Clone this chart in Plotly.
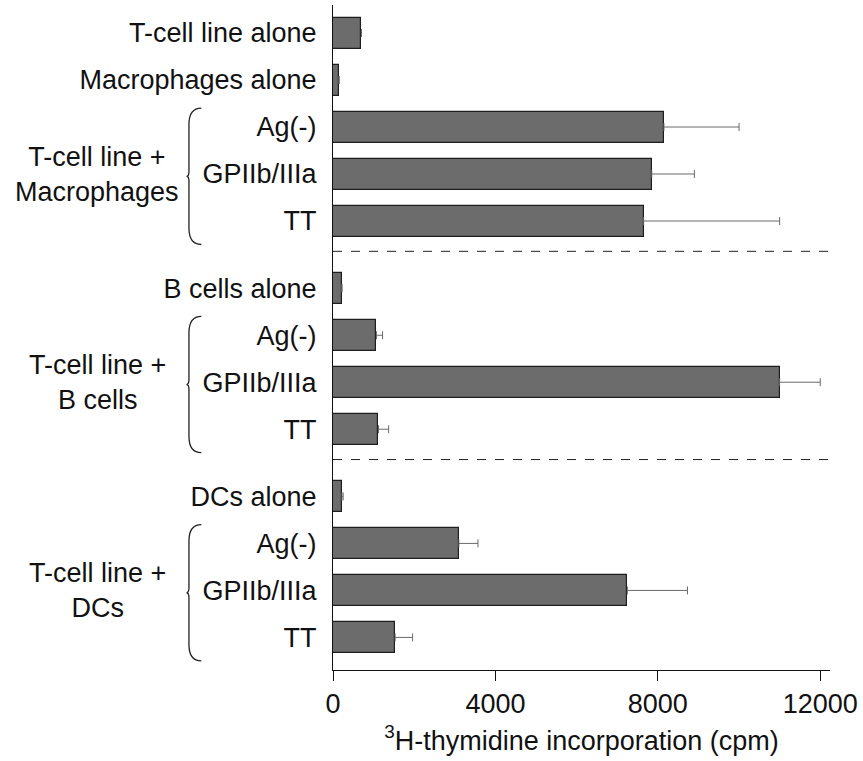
import plotly.graph_objects as go

# ---------------- data ----------------
labels = ["T-cell line alone", "Macrophages alone", "Ag(-)", "GPIIb/IIIa", "TT",
          "B cells alone", "Ag(-)", "GPIIb/IIIa", "TT",
          "DCs alone", "Ag(-)", "GPIIb/IIIa", "TT"]
values = [700, 150, 8150, 7850, 7650,
          220, 1070, 11000, 1120,
          220, 3100, 7250, 1530]
# None = no error bar shown in the reference
errors = [None, None, 1850, 1050, 3350,
          None, 150, 1000, 250,
          30, 470, 1480, 430]
row_group = [0, 0, 0, 0, 0, 1, 1, 1, 1, 2, 2, 2, 2]
group_labels = ["T-cell line +<br>Macrophages", "T-cell line +<br>B cells", "T-cell line +<br>DCs"]
# rows (indices) covered by each brace, and the row where the group label sits
brace_rows = [(2, 4), (6, 8), (10, 12)]
group_label_row = [3, 7, 11]
x_ticks = [0, 4000, 8000, 12000]
x_title = "<sup>3</sup>H-thymidine incorporation (cpm)"

# ---------------- layout helpers ----------------
GAP = 0.43
ypos = [i + GAP * g for i, g in enumerate(row_group)]
Y_TOP, Y_BOT = -0.596, 13.553
X_MAX = 12240
W, H = 863, 761
ML, MR, MT, MB = 333, 28, 5, 91
PW = W - ML - MR

FONT = "Liberation Sans, Arial, Helvetica, sans-serif"
FS = 27


def ypaper(pos):
    return (Y_BOT - pos) / (Y_BOT - Y_TOP)


def xpaper(px):
    return (px - ML) / PW


err_plus = [float("nan") if e is None else e for e in errors]
err_minus = [float("nan") if e is None else 0 for e in errors]

fig = go.Figure()
fig.add_trace(go.Bar(
    x=values, y=ypos, orientation="h", width=0.66,
    marker=dict(color="#6c6c6c", line=dict(color="#1e1e1e", width=1.2)),
    error_x=dict(type="data", array=err_plus, arrayminus=err_minus,
                 symmetric=False, color="#6a6a6a", thickness=1, width=4),
    showlegend=False, hoverinfo="x",
))

shapes = []
# dashed separators between groups
for g in range(1, 3):
    last_prev = max(p for p, rg in zip(ypos, row_group) if rg == g - 1)
    first = min(p for p, rg in zip(ypos, row_group) if rg == g)
    ysep = (last_prev + first) / 2 - 0.07
    shapes.append(dict(type="line", xref="paper", yref="paper",
                       x0=0, x1=1.002, y0=ypaper(ysep), y1=ypaper(ysep),
                       line=dict(color="#222222", width=1, dash="dash")))

# braces
for (r0, r1) in brace_rows:
    top = ypos[r0] - 0.4
    bot = ypos[r1] + 0.5
    mid = (top + bot) / 2
    xe, xb, xm = xpaper(200), xpaper(187.5), xpaper(185)
    yt, yb, ym = ypaper(top), ypaper(bot), ypaper(mid)
    d = 0.35 / (Y_BOT - Y_TOP)
    dm = 0.1 / (Y_BOT - Y_TOP)
    path = (f"M {xe},{yt} Q {xb},{yt} {xb},{yt - d} "
            f"L {xb},{ym + dm} Q {xb},{ym} {xm},{ym} "
            f"Q {xb},{ym} {xb},{ym - dm} "
            f"L {xb},{yb + d} Q {xb},{yb} {xe},{yb}")
    shapes.append(dict(type="path", xref="paper", yref="paper", path=path,
                       line=dict(color="#222222", width=1.3)))

annotations = []
for txt, r in zip(group_labels, group_label_row):
    annotations.append(dict(text=txt, xref="paper", yref="y",
                            x=xpaper(95), y=ypos[r], xanchor="center", yanchor="middle",
                            showarrow=False, align="center",
                            font=dict(family=FONT, size=FS, color="#111111")))

fig.update_layout(
    width=W, height=H,
    margin=dict(l=ML, r=MR, t=MT, b=MB),
    paper_bgcolor="white", plot_bgcolor="white",
    font=dict(family=FONT, size=FS, color="#111111"),
    bargap=0,
    shapes=shapes, annotations=annotations,
    xaxis=dict(range=[0, X_MAX], tickvals=x_ticks, ticktext=[str(t) for t in x_ticks],
               ticks="outside", ticklen=10, tickcolor="#111111", tickwidth=1,
               showline=True, linecolor="#111111", linewidth=1,
               showgrid=False, zeroline=False,
               title=dict(text=x_title, standoff=12, font=dict(size=FS))),
    yaxis=dict(range=[Y_BOT, Y_TOP], tickvals=ypos, ticktext=labels,
               ticks="", showline=True, linecolor="#111111", linewidth=1,
               showgrid=False, zeroline=False, ticklabelstandoff=10),
)

fig.write_html("out.html")
